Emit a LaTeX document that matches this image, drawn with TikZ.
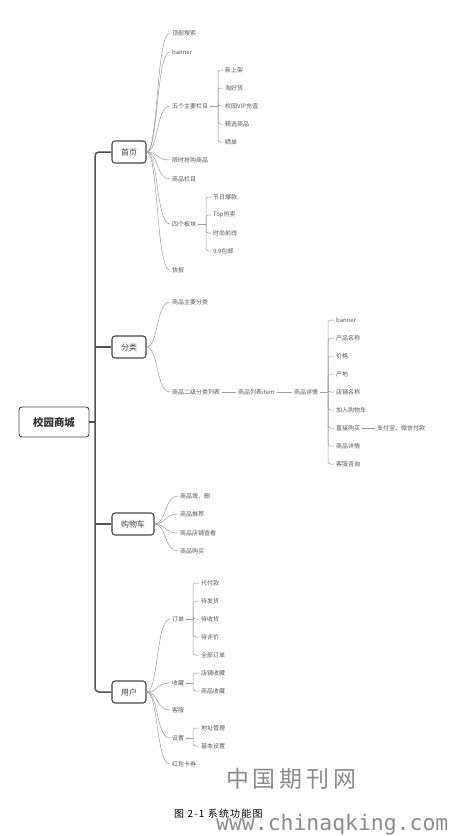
\documentclass[tikz,border=0pt]{standalone}
\usepackage{fontspec}
\setmainfont{Noto Sans CJK SC}
\newfontfamily\monofnt{DejaVu Sans Mono}
\newfontfamily\capfnt[LetterSpace=12]{Noto Sans CJK SC}
\begin{document}
\begin{tikzpicture}[x=1bp,y=-1bp,
  leaf/.style={anchor=west, inner xsep=2bp, inner ysep=1bp, font=\fontsize{6}{7}\selectfont, text=black!65},
  topic/.style={draw=black!72, line width=1.1bp, rounded corners=3bp, fill=white, minimum height=22bp, inner xsep=9bp, font=\fontsize{8}{9}\selectfont, text=black!75},
  rootbox/.style={draw=black!72, line width=0.9bp, rounded corners=3bp, fill=white, minimum height=30bp, minimum width=70bp, font=\fontsize{10.5}{12}\selectfont\bfseries, text=black!80},
  trunk/.style={draw=black!68, line width=1.5bp, rounded corners=4bp},
  link/.style={draw=black!38, line width=0.5bp},
  brk/.style={draw=black!38, line width=0.5bp, rounded corners=2.5bp},
  curv/.style={draw=black!38, line width=0.5bp, to path={.. controls +(12,0) and +(-14,0) .. (\tikztotarget)}}
]
\useasboundingbox (0,0) rectangle (453,836);
\fill[white] (0,0) rectangle (453,836);

% main nodes
\node[rootbox] (root) at (54,422) {校园商城};
\node[topic] (sy) at (129,152) {首页};
\node[topic] (fl) at (129,347) {分类};
\node[topic] (gwc) at (133,524) {购物车};
\node[topic] (yh) at (129,692) {用户};

\coordinate (tr) at (95,422);
\draw[trunk] (sy.west) -- (sy.west -| tr) -- (yh.west -| tr) -- (yh.west);
\draw[trunk] (root.east) -- (tr);
\draw[trunk] (fl.west) -- (fl.west -| tr);
\draw[trunk] (gwc.west) -- (gwc.west -| tr);

% 首页
\node[leaf] (h1) at (170,33) {顶部搜索};
\node[leaf] (h2) at (170,52) {banner};
\node[leaf] (h3) at (170,106) {五个主要栏目};
\node[leaf] (h4) at (170,160) {限时抢购商品};
\node[leaf] (h5) at (170,179) {商品栏目};
\node[leaf] (h6) at (170,224) {四个板块};
\node[leaf] (h7) at (170,270) {快报};
\foreach \n in {h1,h2,h3,h4,h5,h6,h7} \draw[curv] (sy.east) to (\n.west);

\node[leaf] (h31) at (223,70) {新上架};
\node[leaf] (h32) at (223,88) {淘好货};
\node[leaf] (h33) at (223,106) {校园VIP充值};
\node[leaf] (h34) at (223,124) {精选商品};
\node[leaf] (h35) at (223,142) {晒单};
\coordinate (b3) at (218,106);
\draw[link] (h3.east) -- (b3);
\foreach \n in {h31,h32,h33,h34,h35} \draw[brk] (b3) |- (\n.west);

\node[leaf] (h61) at (211,197) {节日爆款};
\node[leaf] (h62) at (211,215) {Top热卖};
\node[leaf] (h63) at (211,233) {时尚前线};
\node[leaf] (h64) at (211,251) {9.9包邮};
\coordinate (b6) at (206,224);
\draw[link] (h6.east) -- (b6);
\foreach \n in {h61,h62,h63,h64} \draw[brk] (b6) |- (\n.west);

% 分类
\node[leaf] (f1) at (170,302) {商品主要分类};
\node[leaf] (f2) at (170,392) {商品二级分类列表};
\foreach \n in {f1,f2} \draw[curv] (fl.east) to (\n.west);
\node[leaf] (f3) at (236,392) {商品列表item};
\node[leaf] (f4) at (292,392) {商品详情};
\draw[link] (f2.east) -- (f3.west);
\draw[link] (f3.east) -- (f4.west);
\node[leaf] (d1) at (334,320) {banner};
\node[leaf] (d2) at (334,338) {产品名称};
\node[leaf] (d3) at (334,356) {价格};
\node[leaf] (d4) at (334,374) {产地};
\node[leaf] (d5) at (334,392) {店铺名称};
\node[leaf] (d6) at (334,410) {加入购物车};
\node[leaf] (d7) at (334,428) {直接购买};
\node[leaf] (d8) at (334,446) {商品详情};
\node[leaf] (d9) at (334,464) {客服咨询};
\coordinate (b4) at (328,392);
\draw[link] (f4.east) -- (b4);
\foreach \n in {d1,d2,d3,d4,d5,d6,d7,d8,d9} \draw[brk] (b4) |- (\n.west);
\node[leaf] (d71) at (375,428) {支付宝、微信付款};
\draw[link] (d7.east) -- (d71.west);

% 购物车
\node[leaf] (g1) at (178,496) {商品增、删};
\node[leaf] (g2) at (178,514) {商品推荐};
\node[leaf] (g3) at (178,533) {商品店铺查看};
\node[leaf] (g4) at (178,551) {商品购买};
\foreach \n in {g1,g2,g3,g4} \draw[curv] (gwc.east) to (\n.west);

% 用户
\node[leaf] (u1) at (170,619) {订单};
\node[leaf] (u2) at (170,683) {收藏};
\node[leaf] (u3) at (170,710) {客服};
\node[leaf] (u4) at (170,738) {设置};
\node[leaf] (u5) at (170,764) {红包卡券};
\foreach \n in {u1,u2,u3,u4,u5} \draw[curv] (yh.east) to (\n.west);

\node[leaf] (u11) at (199,583) {代付款};
\node[leaf] (u12) at (199,601) {待发货};
\node[leaf] (u13) at (199,619) {待收货};
\node[leaf] (u14) at (199,637) {待评价};
\node[leaf] (u15) at (199,655) {全部订单};
\coordinate (bu1) at (193,619);
\draw[link] (u1.east) -- (bu1);
\foreach \n in {u11,u12,u13,u14,u15} \draw[brk] (bu1) |- (\n.west);

\node[leaf] (u21) at (199,673) {店铺收藏};
\node[leaf] (u22) at (199,691) {商品收藏};
\coordinate (bu2) at (193,683);
\draw[link] (u2.east) -- (bu2);
\foreach \n in {u21,u22} \draw[brk] (bu2) |- (\n.west);

\node[leaf] (u41) at (199,728) {地址管理};
\node[leaf] (u42) at (199,746) {基本设置};
\coordinate (bu4) at (193,738);
\draw[link] (u4.east) -- (bu4);
\foreach \n in {u41,u42} \draw[brk] (bu4) |- (\n.west);

% watermark and caption
\node[text=black!45, font=\fontsize{23}{26}\selectfont, anchor=west, inner sep=0pt] (wm1) at (226,779) {中\,国\,期\,刊\,网};
\node[text=black, font=\capfnt\fontsize{10}{12}\selectfont, anchor=west, inner sep=0pt] (cap) at (174,814) {图 2-1 系统功能图};
\node[text=black!45, font=\monofnt\fontsize{21.5}{24}\selectfont, anchor=west, inner sep=0pt] (wm2) at (216,825) {www.chinaqking.com};
\end{tikzpicture}
\end{document}
